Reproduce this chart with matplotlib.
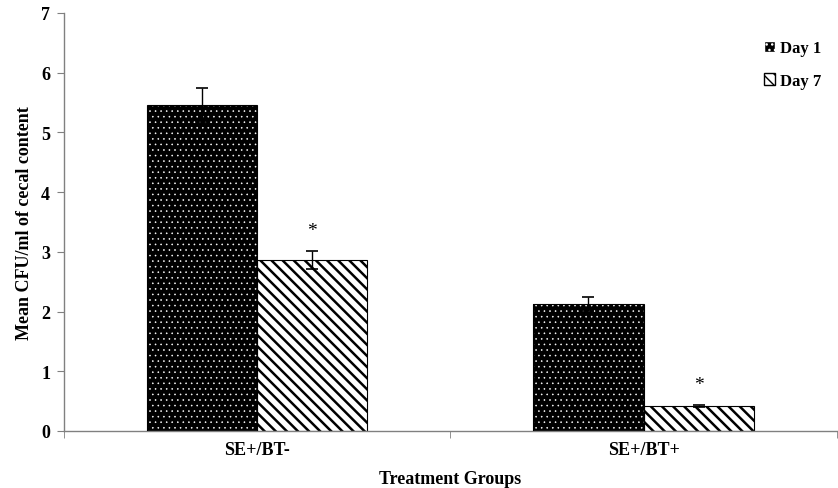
import matplotlib.pyplot as plt
import numpy as np
from matplotlib.patches import Patch

plt.rcParams['font.family'] = ['Liberation Serif', 'DejaVu Serif']
plt.rcParams['font.weight'] = 'bold'

groups = ["SE+/BT-", "SE+/BT+"]
day1 = [5.46, 2.13]
day1_err = [0.28, 0.12]
day7 = [2.86, 0.42]
day7_err = [0.15, 0.02]
signif = ["*", "*"]

BS = chr(92)
DOTS = "..."
STRIPES = BS * 3


def hatch_lw(patches, lw):
    for p in patches:
        if hasattr(p, "set_hatch_linewidth"):
            p.set_hatch_linewidth(lw)


fig = plt.figure(figsize=(8.38, 4.89), dpi=100)
ax = fig.add_axes([0.0764, 0.1166, 0.922, 0.855])

x = np.arange(len(groups))
w = 0.285

# day 1: black bars with a fine white dot pattern
with plt.rc_context({"hatch.linewidth": 0.4}):
    b1 = ax.bar(x - w / 2, day1, w, color="black", edgecolor="white", hatch=DOTS, linewidth=0, zorder=2)
hatch_lw(b1, 0.4)
ax.bar(x - w / 2, day1, w, fill=False, edgecolor="black", linewidth=0.8, zorder=3)
# day 7: white bars with diagonal stripes
with plt.rc_context({"hatch.linewidth": 1.8}):
    b7 = ax.bar(x + w / 2, day7, w, color="white", edgecolor="black", hatch=STRIPES, linewidth=0.8, zorder=2)
hatch_lw(b7, 1.8)

ax.errorbar(x - w / 2, day1, yerr=day1_err, fmt="none", ecolor="black", elinewidth=1.0, capsize=4, capthick=1.2, zorder=4)
ax.errorbar(x + w / 2, day7, yerr=day7_err, fmt="none", ecolor="black", elinewidth=1.0, capsize=4, capthick=1.2, zorder=4)

for xi, v, e, s in zip(x, day7, day7_err, signif):
    ax.text(xi + w / 2, v + e + 0.2, s, ha="center", va="bottom", fontsize=14, fontweight="normal")

# legend handles
with plt.rc_context({"hatch.linewidth": 0.4}):
    h1 = Patch(facecolor="black", edgecolor="white", hatch=DOTS, label="Day 1")
with plt.rc_context({"hatch.linewidth": 1.2}):
    h7 = Patch(facecolor="white", edgecolor="black", hatch=BS * 3, label="Day 7")
hatch_lw([h1], 0.4)
hatch_lw([h7], 1.2)
leg = ax.legend(handles=[h1, h7], loc="upper right", bbox_to_anchor=(1.0, 0.97), frameon=False,
                fontsize=12, handlelength=0.7, handleheight=0.7, handletextpad=0.3, labelspacing=1.0)

ax.set_xlim(-0.5, 1.5)
ax.set_ylim(0, 7)
ax.set_yticks(range(8))
ax.set_xticks(x)
ax.set_xticklabels(groups)
ax.set_xticks([-0.5, 0.5, 1.5], minor=True)
ax.tick_params(axis="x", which="major", length=0, pad=7, labelsize=13)
ax.tick_params(axis="x", which="minor", length=5, color="#808080", direction="out")
ax.tick_params(axis="y", length=5, color="#808080", labelsize=13, pad=5)

for side in ["top", "right"]:
    ax.spines[side].set_visible(False)
for side in ["left", "bottom"]:
    ax.spines[side].set_color("#808080")
    ax.spines[side].set_linewidth(1.0)

ax.set_xlabel("Treatment Groups", fontsize=13, fontweight="bold", labelpad=9)
ax.set_ylabel("Mean CFU/ml of cecal content", fontsize=13, fontweight="bold", labelpad=6)

fig.savefig("out.png", dpi=100)
